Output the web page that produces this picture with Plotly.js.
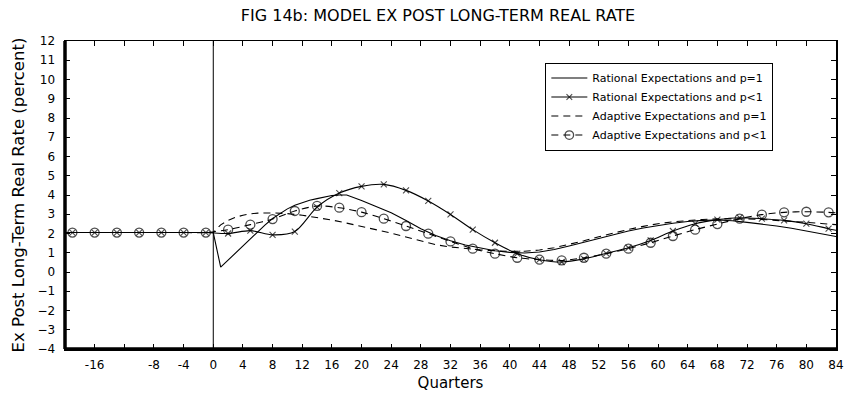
<!DOCTYPE html>
<html>
<head>
<meta charset="utf-8">
<script src="https://cdn.plot.ly/plotly-3.0.1.min.js"></script>
<style>html,body{margin:0;padding:0;background:#fff;}#chart{width:844px;height:393px;}</style>
</head>
<body>
<div id="chart"></div>
<script>
// ---- Data ----
const seriesNames = [
  "Rational Expectations and p=1",
  "Rational Expectations and p<1",
  "Adaptive Expectations and p=1",
  "Adaptive Expectations and p<1"
];

// Rational Expectations, p=1 (no markers)
const ratP1Quarters = [-20,0,1,2,3,4,5,6,7,8,9,10,11,12,13,14,15,16,17,18,20,22,24,26,28,30,32,34,36,38,40,42,44,46,48,50,52,54,56,58,60,62,64,66,68,70,72,74,76,78,80,82,84];
const ratP1Values   = [2.05,2.05,0.25,0.62,0.98,1.35,1.72,2.08,2.45,2.78,3.05,3.28,3.47,3.62,3.73,3.81,3.9,3.97,4.0,4.0,3.72,3.42,3.08,2.68,2.25,1.9,1.62,1.4,1.23,1.1,1.02,0.99,1.04,1.17,1.35,1.55,1.76,1.96,2.13,2.29,2.42,2.53,2.62,2.68,2.7,2.66,2.58,2.5,2.39,2.27,2.14,1.99,1.84];

// Adaptive Expectations, p=1 (dashed, no markers)
const adaP1Quarters = [-20,0,1,2,3,4,5,6,8,10,12,14,16,18,20,22,24,26,28,30,32,34,36,38,40,42,44,46,48,50,52,54,56,58,60,62,64,66,68,70,72,74,76,78,80,82,84];
const adaP1Values   = [2.05,2.05,2.45,2.68,2.84,2.95,3.02,3.06,3.07,3.03,2.95,2.84,2.7,2.54,2.37,2.2,2.02,1.82,1.6,1.42,1.3,1.22,1.15,1.1,1.07,1.08,1.14,1.26,1.43,1.62,1.83,2.03,2.21,2.37,2.51,2.61,2.68,2.73,2.76,2.77,2.76,2.73,2.69,2.64,2.58,2.52,2.46];

// Series with markers (every 3 quarters), plus unmarked end points
const markerQuarters = [-20,-19,-16,-13,-10,-7,-4,-1,2,5,8,11,14,17,20,23,26,29,32,35,38,41,44,47,50,53,56,59,62,65,68,71,74,77,80,83,84];
// Rational Expectations, p<1 (solid with x markers)
const ratPlt1Values = [2.05,2.05,2.05,2.05,2.05,2.05,2.05,2.05,2.0,2.15,1.93,2.1,3.37,4.1,4.45,4.55,4.24,3.69,2.99,2.2,1.52,0.95,0.64,0.52,0.68,0.97,1.26,1.64,2.13,2.51,2.72,2.82,2.77,2.68,2.51,2.25,2.17];
// Adaptive Expectations, p<1 (dashed with circle markers)
const adaPlt1Values = [2.05,2.05,2.05,2.05,2.05,2.05,2.05,2.05,2.2,2.46,2.75,3.17,3.43,3.34,3.11,2.77,2.39,1.99,1.59,1.21,0.95,0.74,0.64,0.6,0.74,0.95,1.21,1.52,1.87,2.2,2.49,2.77,2.98,3.1,3.13,3.1,3.08];

// Tick labels
const xTickVals  = [-20,-16,-12,-8,-4,0,4,8,12,16,20,24,28,32,36,40,44,48,52,56,60,64,68,72,76,80,84];
const xTickText  = ["","-16","","-8","-4","0","4","8","12","16","20","24","28","32","36","40","44","48","52","56","60","64","68","72","76","80","84"];
const yTickVals  = [-4,-3,-2,-1,0,1,2,3,4,5,6,7,8,9,10,11,12];

// ---- Chart ----
const markerSizes = (s) => markerQuarters.map((q, i) => (i === 0 || i === markerQuarters.length - 1) ? 0 : s);

const traces = [
  {x: ratP1Quarters, y: ratP1Values, name: seriesNames[0], type: 'scatter', mode: 'lines',
   line: {color: '#000', width: 1.1, shape: 'linear'}},
  {x: markerQuarters, y: ratPlt1Values, name: seriesNames[1], type: 'scatter', mode: 'lines+markers',
   line: {color: '#000', width: 1.1, shape: 'spline', smoothing: 0.8},
   marker: {symbol: 'x-thin-open', size: markerSizes(6), color: '#000', line: {color: '#000', width: 1.1}}},
  {x: adaP1Quarters, y: adaP1Values, name: seriesNames[2], type: 'scatter', mode: 'lines',
   line: {color: '#000', width: 1.1, dash: '7px,5px', shape: 'linear'}},
  {x: markerQuarters, y: adaPlt1Values, name: seriesNames[3], type: 'scatter', mode: 'lines+markers',
   line: {color: '#000', width: 1.1, dash: '7px,5px', shape: 'spline', smoothing: 0.8},
   marker: {symbol: 'circle-open', size: markerSizes(9), color: '#000', line: {color: '#000', width: 1.3}}}
];

const fontFam = 'DejaVu Sans, Verdana, sans-serif';
const layout = {
  width: 844, height: 393,
  margin: {l: 65, r: 8, t: 41, b: 44, pad: 0},
  paper_bgcolor: '#fff', plot_bgcolor: '#fff',
  font: {family: fontFam, color: '#000', size: 12},
  title: {text: 'FIG 14b: MODEL EX POST LONG-TERM REAL RATE', font: {family: fontFam, size: 16, color: '#000'},
          x: 0.519, xref: 'container', xanchor: 'center', y: 0.962, yref: 'container', yanchor: 'middle'},
  showlegend: true,
  legend: {x: 0.623, y: 0.93, xanchor: 'left', yanchor: 'top', bgcolor: '#fff', bordercolor: '#000', borderwidth: 1,
           font: {family: fontFam, size: 11, color: '#000'}, tracegroupgap: 0, itemwidth: 36},
  xaxis: {range: [-20, 84], tickmode: 'array', tickvals: xTickVals, ticktext: xTickText,
          ticks: 'inside', ticklen: 5, tickwidth: 1, tickcolor: '#000', ticklabelstandoff: 4,
          showline: true, linecolor: '#000', linewidth: 1.5, mirror: 'ticks',
          showgrid: false, zeroline: false, tickfont: {size: 12},
          title: {text: 'Quarters', font: {size: 15}, standoff: 6}},
  yaxis: {range: [-4, 12], tickmode: 'array', tickvals: yTickVals,
          ticks: 'inside', ticklen: 5, tickwidth: 1, tickcolor: '#000', ticklabelstandoff: 6,
          showline: true, linecolor: '#000', linewidth: 1.5, mirror: 'ticks',
          showgrid: false, zeroline: false, tickfont: {size: 12},
          title: {text: 'Ex Post Long-Term Real Rate (percent)', font: {size: 16.5}, standoff: 8}},
  shapes: [
    {type: 'line', xref: 'x', yref: 'paper', x0: 0, x1: 0, y0: 0, y1: 1, line: {color: '#000', width: 1}},
    {type: 'line', xref: 'paper', yref: 'paper', x0: 0, x1: 0, y0: 0, y1: 1, line: {color: '#000', width: 3.5}},
    {type: 'line', xref: 'paper', yref: 'paper', x0: 0, x1: 1, y0: 0, y1: 0, line: {color: '#000', width: 3.5}}
  ]
};

Plotly.newPlot('chart', traces, layout, {displayModeBar: false, staticPlot: true});
</script>
</body>
</html>
